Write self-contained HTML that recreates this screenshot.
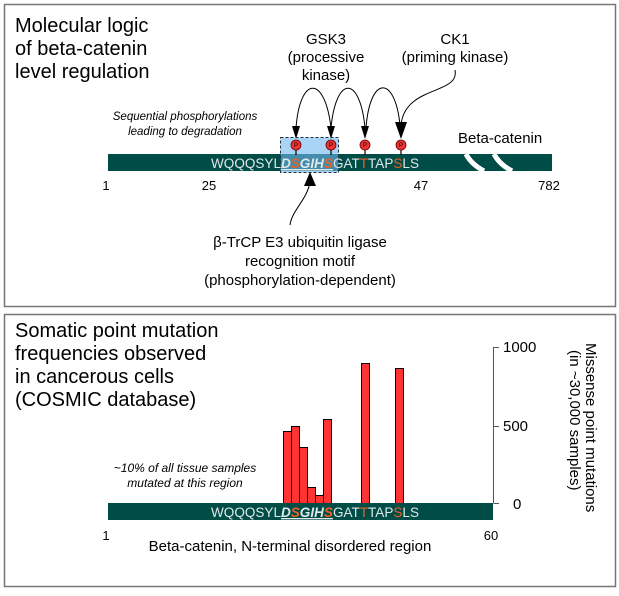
<!DOCTYPE html>
<html><head><style>
body{margin:0;background:#fff;width:619px;height:591px;overflow:hidden}
svg text{font-family:"Liberation Sans",sans-serif}
</style></head><body>
<svg width="619" height="591" xmlns="http://www.w3.org/2000/svg">
<rect x="4.5" y="4.5" width="611" height="302" fill="none" stroke="#777" stroke-width="1.5"/>
<rect x="4.5" y="314.5" width="611" height="272" fill="none" stroke="#777" stroke-width="1.5"/>
<text x="15" y="32" font-size="20">Molecular logic</text>
<text x="15" y="55" font-size="20">of beta-catenin</text>
<text x="15" y="78" font-size="20">level regulation</text>
<text x="326" y="44" font-size="15" text-anchor="middle">GSK3</text>
<text x="326" y="62" font-size="15" text-anchor="middle">(processive</text>
<text x="326" y="80" font-size="15" text-anchor="middle">kinase)</text>
<text x="455" y="44" font-size="15" text-anchor="middle">CK1</text>
<text x="455" y="62" font-size="15" text-anchor="middle">(priming kinase)</text>
<text x="185" y="120" font-size="11.5" font-style="italic" text-anchor="middle">Sequential phosphorylations</text>
<text x="185" y="135" font-size="11.5" font-style="italic" text-anchor="middle">leading to degradation</text>
<text x="458" y="143" font-size="15">Beta-catenin</text>
<g fill="none" stroke="#000" stroke-width="1">
<path d="M331,128 C325,75 300,75 296,128"/>
<path d="M365,128 C360,75 336,75 331,128"/>
<path d="M400,125 C395,75 370,75 366,128"/>
<path d="M455,70 C460,95 405,85 401,125"/>
</g>
<g fill="#000">
<path d="M292,126 L300,126 L296,139 Z"/>
<path d="M327,126 L335,126 L331,139 Z"/>
<path d="M361,126 L369,126 L365,139 Z"/>
<path d="M395,122 L407,122 L401,139 Z"/>
</g>
<rect x="108" y="154" width="444" height="17" fill="#004c47"/>
<path d="M466,154 q5,10 18,17 M494,154 q5,10 18,17" stroke="#fff" stroke-width="5" fill="none"/>
<rect x="280.5" y="137.5" width="58" height="35" fill="#6fb8f0" fill-opacity="0.6" stroke="#234" stroke-dasharray="3,2"/>
<g stroke="#000" stroke-width="1.2">
<line x1="296" y1="150" x2="296" y2="155"/><line x1="331" y1="150" x2="331" y2="155"/><line x1="365" y1="150" x2="365" y2="155"/><line x1="401" y1="150" x2="401" y2="155"/>
</g>
<g fill="#e33" stroke="#600" stroke-width="0.8">
<circle cx="296" cy="145" r="5"/><circle cx="331" cy="145" r="5"/><circle cx="365" cy="145" r="5"/><circle cx="401" cy="145" r="5"/>
</g>
<g font-size="6" fill="#000" text-anchor="middle"><text x="296" y="147">P</text><text x="331" y="147">P</text><text x="365" y="147">P</text><text x="401" y="147">P</text></g>
<text x="211" y="168" font-size="13.5" fill="#e0e8e8" textLength="208" lengthAdjust="spacingAndGlyphs">WQQQSYL<tspan font-weight="bold" font-style="italic" text-decoration="underline">D<tspan fill="#f06020">S</tspan>GIH<tspan fill="#f06020">S</tspan></tspan>GAT<tspan fill="#f06020">T</tspan>TAP<tspan fill="#f06020">S</tspan>LS</text>
<g font-size="13" text-anchor="middle"><text x="106" y="190">1</text><text x="209" y="190">25</text><text x="421" y="190">47</text><text x="549" y="190">782</text></g>
<path d="M290,225 C292,210 307,200 310,182" fill="none" stroke="#000"/>
<path d="M304,186 L316,186 L310,172 Z" fill="#000"/>
<text x="300" y="247" font-size="15" text-anchor="middle">β-TrCP E3 ubiquitin ligase</text>
<text x="300" y="266" font-size="15" text-anchor="middle">recognition motif</text>
<text x="300" y="285" font-size="15" text-anchor="middle">(phosphorylation-dependent)</text>

<text x="15" y="337" font-size="20">Somatic point mutation</text>
<text x="15" y="360" font-size="20">frequencies observed</text>
<text x="15" y="383" font-size="20">in cancerous cells</text>
<text x="15" y="406" font-size="20">(COSMIC database)</text>
<text x="185" y="472" font-size="12" font-style="italic" text-anchor="middle">~10% of all tissue samples</text>
<text x="185" y="487" font-size="12" font-style="italic" text-anchor="middle">mutated at this region</text>
<line x1="211" y1="503.5" x2="420" y2="503.5" stroke="#444" stroke-dasharray="4,3"/>
<g fill="#f33" stroke="#000" stroke-width="1">
<rect x="283.5" y="431.5" width="8" height="72"/>
<rect x="291.5" y="426.5" width="8" height="77"/>
<rect x="299.5" y="447.5" width="8" height="56"/>
<rect x="307.5" y="487.5" width="8" height="16"/>
<rect x="315.5" y="495.5" width="8" height="8"/>
<rect x="323.5" y="419.5" width="8" height="84"/>
<rect x="361.5" y="363.5" width="8" height="140"/>
<rect x="395.5" y="368.5" width="8" height="135"/>
</g>
<rect x="280.5" y="503.5" width="54" height="15" fill="#a8d4f8" stroke="#234" stroke-dasharray="3,2"/>
<rect x="108" y="503" width="385" height="17" fill="#004c47"/>
<text x="211" y="517" font-size="13.5" fill="#e0e8e8" textLength="208" lengthAdjust="spacingAndGlyphs">WQQQSYL<tspan font-weight="bold" font-style="italic" text-decoration="underline">D<tspan fill="#f06020">S</tspan>GIH<tspan fill="#f06020">S</tspan></tspan>GAT<tspan fill="#f06020">T</tspan>TAP<tspan fill="#f06020">S</tspan>LS</text>
<g stroke="#555" stroke-width="1" fill="none">
<path d="M493.5,347 V503 M493.5,347.5 H499 M493.5,426.5 H499 M493.5,503.5 H499"/>
</g>
<g font-size="15"><text x="503" y="352">1000</text><text x="503" y="431">500</text><text x="513" y="509">0</text></g>
<text transform="translate(586,343) rotate(90)" font-size="15">Missense point mutations</text>
<text transform="translate(570,350) rotate(90)" font-size="15">(in ~30,000 samples)</text>
<text x="106" y="540" font-size="13" text-anchor="middle">1</text>
<text x="491" y="540" font-size="13" text-anchor="middle">60</text>
<text x="290" y="551" font-size="15" text-anchor="middle">Beta-catenin, N-terminal disordered region</text>
</svg>
</body></html>
